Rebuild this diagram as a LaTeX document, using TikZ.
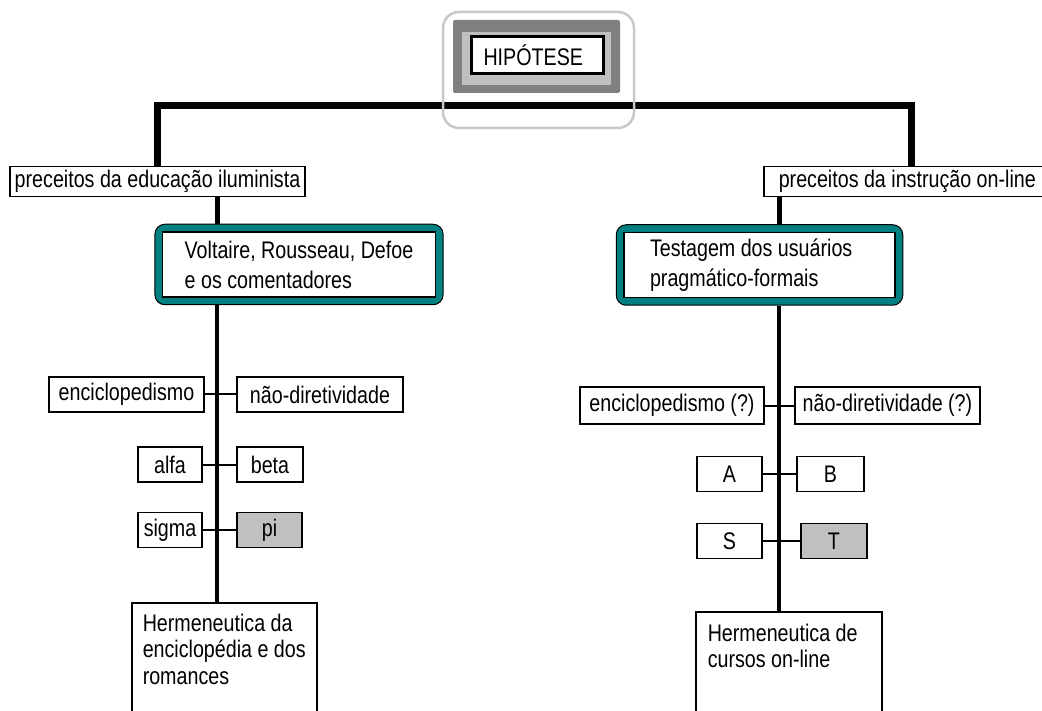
\documentclass[tikz,border=0pt]{standalone}
\usepackage{fontspec}
\setmainfont{Liberation Sans}[FakeStretch=0.82]
\usetikzlibrary{fit,backgrounds}
\definecolor{tealbox}{HTML}{008080}
\definecolor{hipdark}{HTML}{808080}
\definecolor{hiplight}{HTML}{C0C0C0}
\definecolor{hipring}{HTML}{C8C8C8}

\begin{document}
\begin{tikzpicture}[
    x=1pt, y=-1pt,
    font=\fontsize{24}{26.5}\selectfont,
    box/.style={draw, line width=1.5pt, fill=white, inner sep=0pt},
    leaf/.style={box, minimum height=35pt},
    shaded/.style={leaf, fill=hiplight},
    tealframe/.style={draw, line width=1pt, fill=tealbox, rounded corners=10pt, inner sep=7pt},
    tealtext/.style={box, align=flush left, minimum height=65pt, font=\fontsize{24}{30}\selectfont},
    bar/.style={line width=7pt},
    stem/.style={line width=5pt},
    spine/.style={line width=3.5pt},
    branch/.style={line width=2pt},
  ]
  \useasboundingbox (0,0) rectangle (1042,711);
  \node[box, line width=3pt, anchor=north west, inner xsep=12pt, text width=108pt, align=flush left, minimum height=37pt] (hip) at (470,35) {HIPÓTESE};

  \node[box, minimum width=295pt, minimum height=30pt] (pl) at (157.5,181.5) {preceitos da educação iluminista};
  \node[box, anchor=west, inner xsep=15pt, text width=266pt, align=flush left, minimum height=30pt] (pr) at (763,181.5) {preceitos da instrução on-line};

  \node[tealtext, inner xsep=22pt, minimum width=272pt] (vl) at (299,264.5) {Voltaire, Rousseau, Defoe\\e os comentadores};
  \node[tealtext, inner xsep=26pt, text width=219pt] (vr) at (759.5,265) {Testagem dos usuários\\pragmático-formais};

  \node[leaf, minimum width=155pt] (encl) at (126.5,394.5) {enciclopedismo};
  \node[leaf, minimum width=166pt] (ndirl) at (320,394.5) {não-diretividade};
  \node[leaf, minimum width=64pt] (alfa) at (170,464.5) {alfa};
  \node[leaf, minimum width=66pt] (beta) at (270,464.5) {beta};
  \node[leaf, minimum width=64pt] (sigma) at (170,530) {sigma};
  \node[shaded, minimum width=65pt] (pi) at (269.5,530) {pi};

  \node[leaf, minimum width=184pt, minimum height=37pt] (encr) at (672,405.5) {enciclopedismo (?)};
  \node[leaf, minimum width=185pt, minimum height=37pt] (ndirr) at (887.5,405.5) {não-diretividade (?)};
  \node[leaf, minimum width=65pt] (a) at (729.5,474) {A};
  \node[leaf, minimum width=67pt] (b) at (830.5,474) {B};
  \node[leaf, minimum width=65pt] (s) at (729.5,541) {S};
  \node[shaded, minimum width=66pt] (t) at (834,541) {T};

  \node[box, anchor=north west, align=flush left, inner xsep=11pt, inner ysep=11pt, text depth=100pt] (herml) at (131,602) {Hermeneutica da\\enciclopédia e dos\\romances};
  \node[box, anchor=north west, align=flush left, text width=162pt, inner xsep=12pt, inner ysep=12pt, text depth=100pt] (hermr) at (695,611) {Hermeneutica de\\cursos on-line};

  \coordinate (hipbar) at (536,106);
  \coordinate (lspine) at (217,0);
  \coordinate (rspine) at (779,0);

  \begin{scope}[on background layer]
    \node[tealframe, fit=(vl)] (vlf) {};
    \node[tealframe, fit=(vr)] (vrf) {};
    \fill[hipdark, rounded corners=2pt] ([shift={(-17,-15)}]hip.north west) rectangle ([shift={(15,18)}]hip.south east);
    \fill[hiplight] ([shift={(-8,-3)}]hip.north west) rectangle ([shift={(6,10)}]hip.south east);
    \draw[bar] (pl.north) |- (hipbar) -| (pr.north);
    \draw[stem] (pl.south -| lspine) -- (vlf.north -| lspine);
    \draw[stem] (pr.south -| rspine) -- (vrf.north -| rspine);
    \draw[spine] (vlf.south -| lspine) -- (herml.north -| lspine);
    \draw[spine] (vrf.south -| rspine) -- (hermr.north -| rspine);
    \draw[branch] (encl.east) -- (ndirl.west);
    \draw[branch] (alfa.east) -- (beta.west);
    \draw[branch] (sigma.east) -- (pi.west);
    \draw[branch] (encr.east) -- (ndirr.west);
    \draw[branch] (a.east) -- (b.west);
    \draw[branch] (s.east) -- (t.west);
  \end{scope}

  \draw[hipring, line width=2.5pt, rounded corners=16pt] ([shift={(-27,-23)}]hip.north west) rectangle ([shift={(29,53)}]hip.south east);
\end{tikzpicture}
\end{document}
